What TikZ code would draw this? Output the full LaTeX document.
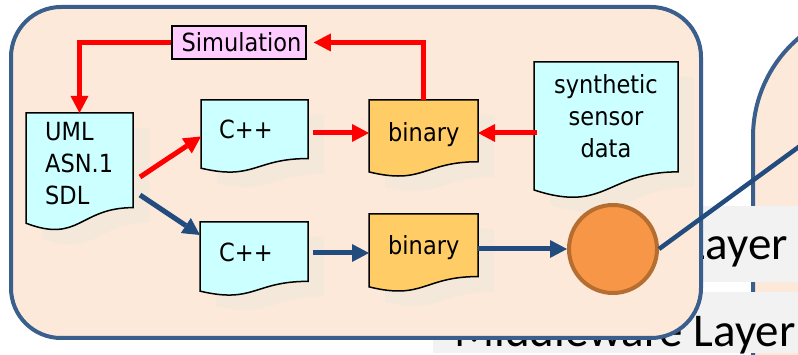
\documentclass[tikz,border=0pt]{standalone}
\usepackage{fontspec}
\newfontfamily\vfont{DejaVu Sans}[FakeStretch=0.9]
\newfontfamily\cfont{Carlito}
\usetikzlibrary{arrows.meta,calc}
\definecolor{peach}{HTML}{FDE9DA}
\definecolor{shadowc}{HTML}{F3E8D9}
\definecolor{frameblue}{HTML}{3B5F8C}
\definecolor{arrowblue}{HTML}{234C7E}
\definecolor{docblue}{HTML}{CCFFFF}
\definecolor{docorange}{HTML}{FFCC66}
\definecolor{simpink}{HTML}{FFCCFF}
\definecolor{grayb}{HTML}{F2F2F2}
\definecolor{circfill}{HTML}{F79646}
\definecolor{circdraw}{HTML}{B56D30}
\newcommand\docshape[2]{%
  \draw[docline,fill=#2] (#1.north west) -- (#1.north east)
    -- ($(#1.north east)!0.802!(#1.south east)$)
    .. controls ($(#1.north)!0.802!(#1.south)$) and ($(#1.north)!1.107!(#1.south)$)
    .. ($(#1.north west)!0.934!(#1.south west)$) -- cycle;}
\newcommand\docshadow[1]{%
  \fill[shadowc,transform canvas={shift={(16pt,-15pt)}}] (#1.north west) -- (#1.north east)
    -- ($(#1.north east)!0.802!(#1.south east)$)
    .. controls ($(#1.north)!0.802!(#1.south)$) and ($(#1.north)!1.107!(#1.south)$)
    .. ($(#1.north west)!0.934!(#1.south west)$) -- cycle;}
\tikzset{
  frame/.style={inner sep=0pt, outer sep=0pt, anchor=north west},
  docline/.style={draw=black, line width=1.5pt, line join=miter},
  vtext/.style={font=\vfont\fontsize{25}{32}\selectfont, inner sep=0pt},
  ctext/.style={font=\cfont\fontsize{47}{50}\selectfont, inner sep=0pt},
  redarrow/.style={draw=red, line width=5pt, -{Triangle[length=17pt,width=18pt,line width=0pt]}},
  bluearrow/.style={draw=arrowblue, line width=5pt, -{Triangle[length=17pt,width=18pt,line width=0pt]}},
  graybox/.style={fill=grayb, inner sep=0pt, outer sep=0pt, anchor=north west},
}
\begin{document}
\begin{tikzpicture}[x=1pt,y=-1pt]
\useasboundingbox (0,0) rectangle (798,355);
\clip (0,0) rectangle (798,355);
\fill[white] (0,0) rectangle (798,355);
% right neighbouring panel
\draw[line width=4pt, draw=frameblue, fill=peach]
  (753,420) -- (753,137) arc[start angle=180, end angle=270, radius=130] -- (900,7) -- (900,420) -- cycle;
% gray layer boxes
\node[graybox, minimum width=220pt, minimum height=76pt] (layerbox) at (600,206) {};
\node[ctext, anchor=base east] (layerlbl) at (788,260) {Layer};
\node[graybox, minimum width=380pt, minimum height=61pt] (mwbox) at (433,292) {};
\node[ctext, anchor=base west] (mwlbl) at (454,347) {Middleware Layer};
% main panel
\node[frame, draw=frameblue, fill=peach, line width=4pt, rounded corners=50pt,
      minimum width=690pt, minimum height=331pt] (panel) at (11,7) {};
% document frames
\node[frame, minimum width=107pt, minimum height=118pt] (uml) at (26,113) {};
\node[frame, minimum width=107pt, minimum height=73pt] (cppA) at (201,100) {};
\node[frame, minimum width=108pt, minimum height=74pt] (cppB) at (200,222) {};
\node[frame, minimum width=109pt, minimum height=77pt] (binA) at (369,100) {};
\node[frame, minimum width=109pt, minimum height=78pt] (binB) at (369,214) {};
\node[frame, minimum width=144pt, minimum height=137pt] (syn) at (534,62) {};
% shadows
\docshadow{uml}
\docshadow{cppA}
\docshadow{cppB}
\docshadow{binA}
\docshadow{binB}
\docshadow{syn}
% documents
\docshape{uml}{docblue}
\docshape{cppA}{docblue}
\docshape{cppB}{docblue}
\docshape{binA}{docorange}
\docshape{binB}{docorange}
\docshape{syn}{docblue}
% texts
\node[vtext, anchor=north west, align=left] (umltext) at (45,122) {UML\\ASN.1\\SDL};
\node[vtext, anchor=north, align=center] (syntext) at (606,74.5) {synthetic\\sensor\\data};
\node[vtext, anchor=base west] (cppAtext) at (219,139) {C++};
\node[vtext, anchor=base west] (cppBtext) at (219,262) {C++};
\node[vtext, anchor=base west] (binAtext) at (388,142) {binary};
\node[vtext, anchor=base west] (binBtext) at (388,255) {binary};
% simulation box
\node[vtext, draw=black, line width=1.5pt, fill=simpink, minimum width=134pt, minimum height=33pt] (sim) at (239,42.5) {\hspace*{5pt}Simulation};
% hub circle
\node[circle, draw=circdraw, fill=circfill, line width=4pt, minimum size=88pt, inner sep=0pt] (hub) at (613,249) {};
\coordinate (far) at (800,146);
% red arrows
\draw[redarrow] (sim.west) -| (uml.north);
\draw[redarrow, shorten >=7pt] (binA.north) |- (sim.east);
\draw[redarrow] ([shift={(7,5)}]uml.east) -- (cppA.west);
\draw[redarrow] ([shift={(5,-3.5)}]cppA.east) -- ([shift={(0,-5.5)}]binA.west);
\draw[redarrow] ([shift={(3,2.5)}]syn.west) -- ([shift={(0,-5.5)}]binA.east);
% blue arrows
\draw[bluearrow] ([shift={(7,23)}]uml.east) -- ([shift={(0,13)}]cppB.north west);
\draw[bluearrow] ([shift={(5,-6)}]cppB.east) -- (binB.west);
\draw[bluearrow] ([shift={(0,-4)}]binB.east) -- (hub.west);
\draw[draw=arrowblue, line width=4.5pt] (hub.east) -- (far);
\end{tikzpicture}
\end{document}
